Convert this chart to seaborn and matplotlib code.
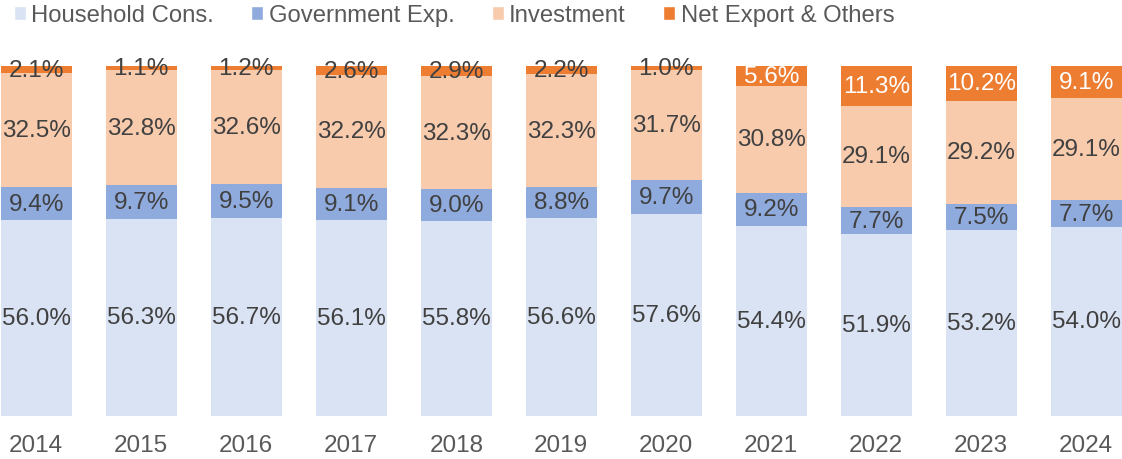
import matplotlib.pyplot as plt
import numpy as np
import seaborn as sns
from matplotlib.patches import Patch

years = ["2014", "2015", "2016", "2017", "2018", "2019", "2020", "2021", "2022", "2023", "2024"]
household = [56.0, 56.3, 56.7, 56.1, 55.8, 56.6, 57.6, 54.4, 51.9, 53.2, 54.0]
government = [9.4, 9.7, 9.5, 9.1, 9.0, 8.8, 9.7, 9.2, 7.7, 7.5, 7.7]
investment = [32.5, 32.8, 32.6, 32.2, 32.3, 32.3, 31.7, 30.8, 29.1, 29.2, 29.1]
net_export = [2.1, 1.1, 1.2, 2.6, 2.9, 2.2, 1.0, 5.6, 11.3, 10.2, 9.1]

series = [
    ("Household Cons.", household, "#DAE3F3"),
    ("Government Exp.", government, "#8FAADC"),
    ("Investment", investment, "#F8CBAD"),
    ("Net Export & Others", net_export, "#ED7D31"),
]

sns.set_theme(style="white")
plt.rcParams["font.family"] = ["Liberation Sans", "DejaVu Sans"]

fig = plt.figure(figsize=(11.22, 4.6), dpi=100)
ax = fig.add_axes([0, 43 / 460, 1, 350 / 460])

bottom = np.zeros(len(years))
for name, vals, color in series:
    vals = np.array(vals)
    sns.barplot(x=years, y=vals, bottom=bottom, color=color, saturation=1,
                width=0.676, errorbar=None, ax=ax, linewidth=0)
    for i, v in enumerate(vals):
        # white text on the big orange segments
        txt_color = "white" if (name.startswith("Net") and v > 5) else "#404040"
        ax.text(i, bottom[i] + v / 2, f"{v:.1f}%", ha="center", va="center",
                fontsize=17.5, color=txt_color)
    bottom = bottom + vals

ax.set_xlim(-0.345, 10.34)
ax.set_ylim(0, 100)
ax.set_yticks([])
ax.set_ylabel("")
ax.tick_params(axis="x", length=0, labelsize=17.5, labelcolor="#595959", pad=13)
sns.despine(ax=ax, left=True, bottom=True)

handles = [Patch(facecolor=c, label=n) for n, _, c in series]
fig.legend(handles=handles, loc="upper left", bbox_to_anchor=(-0.007, 1.035), ncol=4,
           frameon=False, fontsize=17.2, labelcolor="#595959",
           handlelength=0.5, handleheight=0.5, handletextpad=0.24, columnspacing=1.55)

fig.savefig("out.png", dpi=100)
